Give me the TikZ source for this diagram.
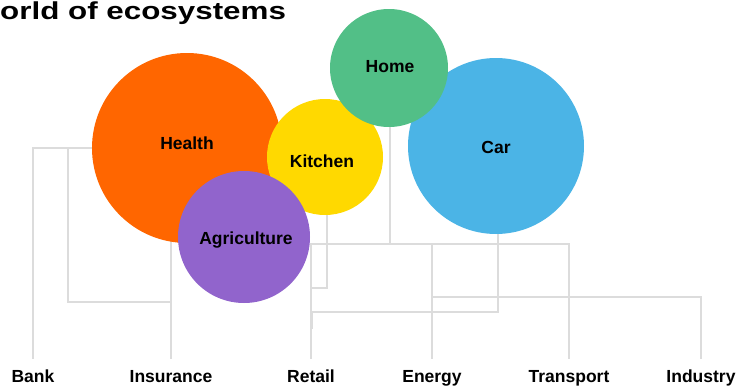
\documentclass[tikz,border=0pt]{standalone}
\usepackage{fontspec}
\setmainfont{Liberation Sans}
\definecolor{cHealth}{HTML}{FF6600}
\definecolor{cKitchen}{HTML}{FFD900}
\definecolor{cHome}{HTML}{52BF87}
\definecolor{cCar}{HTML}{4BB4E6}
\definecolor{cAgri}{HTML}{9164CC}
\definecolor{cLink}{HTML}{DCDCDC}
\begin{document}
\begin{tikzpicture}[
	x=1pt, y=-1pt,
	bubble/.style={
		circle,
		inner sep=0pt,
		align=center,
		font=\bfseries\fontsize{17.5}{20}\selectfont
	},
	sector/.style={
		anchor=base,
		inner xsep=2pt,
		inner ysep=10pt,
		text height=13pt,
		text depth=4pt,
		font=\bfseries\fontsize{17.5}{20}\selectfont
	},
	LinkC1/.style={% thin grey tree lines
		draw=cLink,
		line width=1.6pt,
	},
]
	\useasboundingbox (0,0) rectangle (740,386);

	\node [anchor=base west, inner sep=0pt, font=\bfseries\fontsize{24.5}{28}\selectfont] (title) at (0,19) {\scalebox{1.28}[1]{orld of ecosystems}};

	\node [sector] (bank) at (33,382) {Bank};
	\node [sector] (insurance) at (171,382) {Insurance};
	\node [sector] (retail) at (311,382) {Retail};
	\node [sector] (energy) at (432,382) {Energy};
	\node [sector] (transport) at (569,382) {Transport};
	\node [sector] (industry) at (701,382) {Industry};

	\coordinate (hsplit) at (68,148);
	\coordinate (hjoin) at (171,302);
	\coordinate (rtop) at (311,244);
	\coordinate (kjoin) at (311,288);
	\coordinate (cjoin) at (312,312);
	\coordinate (ijoin) at (432,297);

	\coordinate (healthC) at (187,148);
	\coordinate (kitchenC) at (327,157);
	\coordinate (homeC) at (390,68);
	\coordinate (carC) at (498,146);

	\draw [LinkC1] (healthC) -| (bank);
	\draw [LinkC1] (hsplit) |- (hjoin);
	\draw [LinkC1] (insurance) -- (insurance |- healthC);

	\draw [LinkC1] (retail) -- (rtop) -| (transport);
	\draw [LinkC1] (homeC) -- (homeC |- rtop);
	\draw [LinkC1] (energy) -- (energy |- rtop);
	\draw [LinkC1] (kitchenC) |- (kjoin);
	\draw [LinkC1] (carC) |- (cjoin) -- ++(0,17);
	\draw [LinkC1] (ijoin) -| (industry);

	\node [bubble, fill=cHealth, minimum size=190pt] (health) at (187,148) {};
	\node [bubble, fill=cKitchen, minimum size=116pt] (kitchen) at (325,157) {};
	\node [bubble, fill=cCar, minimum size=176pt] (car) at (496,146) {};
	\node [bubble, fill=cHome, minimum size=118pt] (home) at (389,68) {};
	\node [bubble, fill=cAgri, minimum size=132pt] (agri) at (244,237) {};

	\node [bubble] (healthL) at (187,143) {Health};
	\node [bubble] (kitchenL) at (322,161) {Kitchen};
	\node [bubble] (homeL) at (390,67) {Home};
	\node [bubble] (carL) at (496,147) {Car};
	\node [bubble] (agriL) at (246,240) {Agriculture};
\end{tikzpicture}
\end{document}
